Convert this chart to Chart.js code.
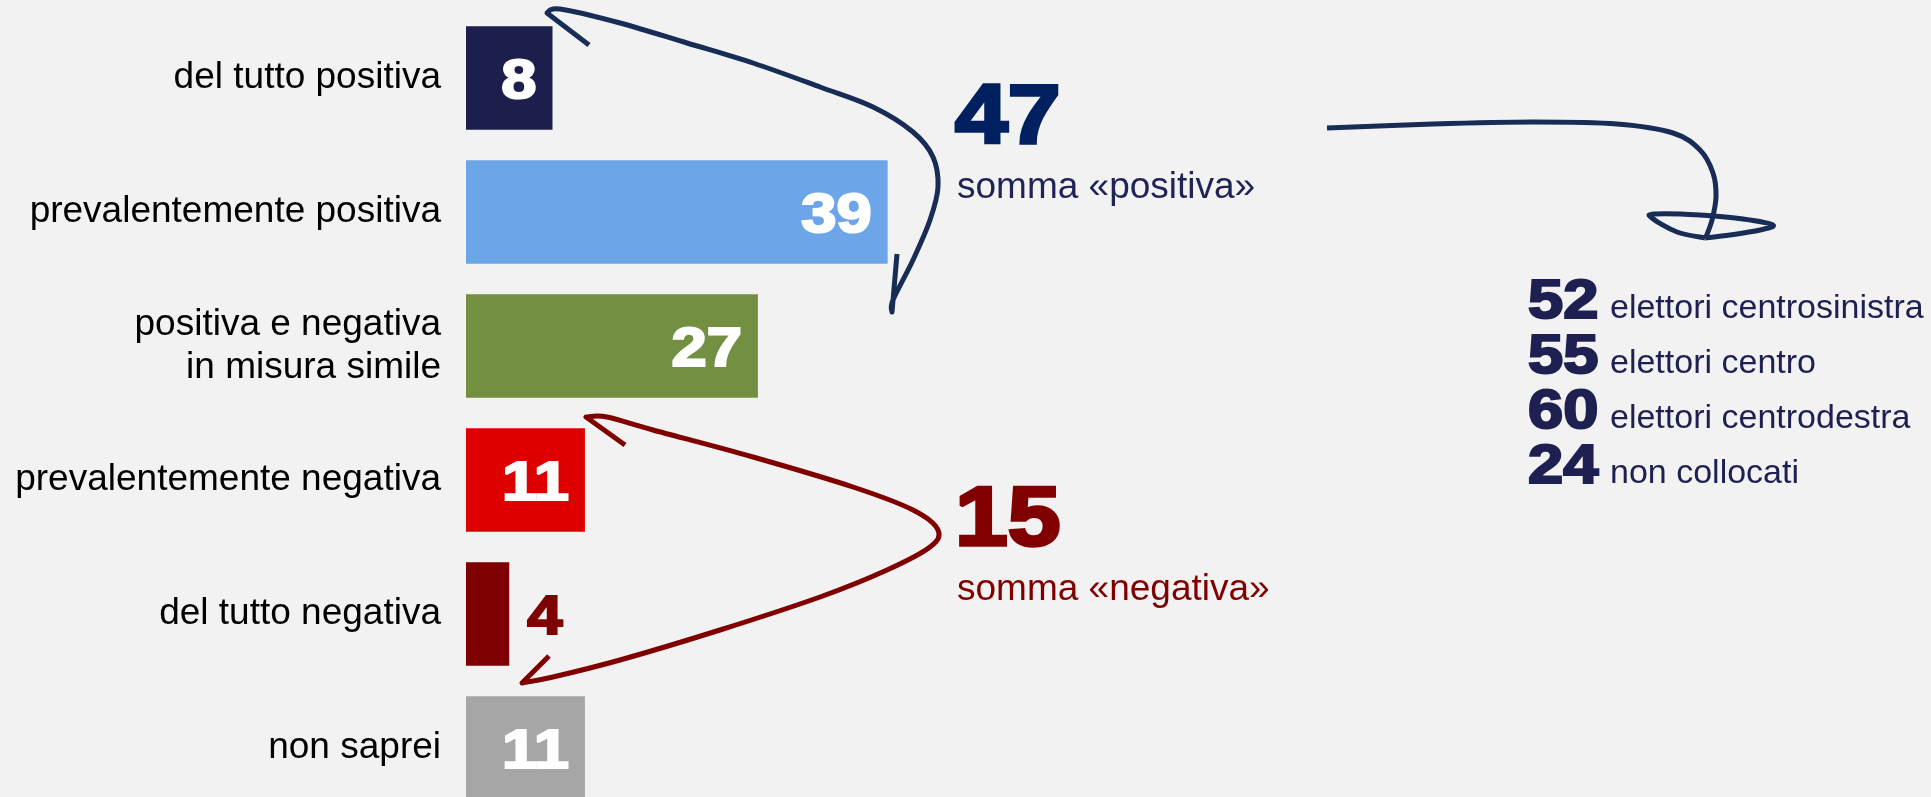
<!DOCTYPE html>
<html><head><meta charset="utf-8">
<script src="https://cdn.jsdelivr.net/npm/chart.js@4/dist/chart.umd.min.js"></script>
<style>
html,body{margin:0;padding:0;background:#F2F2F2;overflow:hidden;}
#wrap{width:1931px;height:797px;overflow:hidden;position:relative;background:#F2F2F2;}
#inner{width:1931px;height:815px;position:relative;}
canvas{display:block}
</style></head><body>
<div id="wrap"><div id="inner"><canvas id="c" width="1931" height="815"></canvas></div></div>
<script>
// ---- data ----
const categories = ["del tutto positiva", "prevalentemente positiva", ["positiva e negativa", "in misura simile"], "prevalentemente negativa", "del tutto negativa", "non saprei"];
const values = [8, 39, 27, 11, 4, 11];
const summaryValues = [47, 15];
const summaryLabels = ["somma «positiva»", "somma «negativa»"];
const groupValues = [52, 55, 60, 24];
const groupLabels = ["elettori centrosinistra", "elettori centro", "elettori centrodestra", "non collocati"];

// ---- styles ----
const barColors = ["#1C1F4C", "#6CA6E8", "#738F41", "#DE0000", "#7F0000", "#A6A6A6"];
const FONT = '"Liberation Sans", Arial, sans-serif';
const NAVY = "#1D2050";
const BLUE_SUM = "#002060";
const RED_SUM = "#800000";
const ARROW_BLUE = "#172D55";

function heavy(ctx, text, x, y, size, color, align) {
  ctx.save();
  ctx.font = `bold ${size}px ${FONT}`;
  ctx.fillStyle = color; ctx.strokeStyle = color;
  ctx.lineWidth = size * 0.04; ctx.lineJoin = 'miter'; ctx.miterLimit = 2;
  ctx.textBaseline = 'alphabetic'; ctx.textAlign = 'left';
  const sx = 1.13;
  const w = ctx.measureText(text).width * sx;
  const left = align === 'right' ? x - w : x;
  ctx.translate(left, y); ctx.scale(sx, 1);
  ctx.fillText(text, 0, 0); ctx.strokeText(text, 0, 0);
  ctx.restore();
}
function plain(ctx, text, x, y, size, color) {
  ctx.save();
  ctx.font = `${size}px ${FONT}`;
  ctx.fillStyle = color; ctx.textAlign = 'left'; ctx.textBaseline = 'alphabetic';
  ctx.fillText(text, x, y);
  ctx.restore();
}
function splineTo(ctx, pts) {
  for (let i = 0; i < pts.length - 1; i++) {
    const p0 = pts[i - 1] || pts[i], p1 = pts[i], p2 = pts[i + 1], p3 = pts[i + 2] || p2;
    ctx.bezierCurveTo(p1[0] + (p2[0] - p0[0]) / 6, p1[1] + (p2[1] - p0[1]) / 6,
                      p2[0] - (p3[0] - p1[0]) / 6, p2[1] - (p3[1] - p1[1]) / 6, p2[0], p2[1]);
  }
}

const valueLabels = {
  id: 'valueLabels',
  afterDatasetsDraw(chart) {
    const ctx = chart.ctx;
    const meta = chart.getDatasetMeta(0);
    meta.data.forEach((bar, i) => {
      const v = values[i];
      const y = bar.y + 20;
      if (v >= 6) heavy(ctx, String(v), bar.x - 16, y, 56, '#FFFFFF', 'right');
      else heavy(ctx, String(v), bar.x + 18, y, 56, barColors[i], 'left');
    });
  }
};

const annotations = {
  id: 'annotations',
  afterDraw(chart) {
    const ctx = chart.ctx;
    ctx.save();
    ctx.lineCap = 'butt'; ctx.lineJoin = 'round'; ctx.lineWidth = 5;
    // blue arrow (positive sum)
    ctx.strokeStyle = ARROW_BLUE;
    ctx.beginPath();
    ctx.moveTo(589, 45); ctx.lineTo(547, 13);
    splineTo(ctx, [[547, 13], [560, 9], [620, 23], [687, 43], [753, 63], [820, 87], [873, 107], [913, 132], [933, 157], [938, 187], [930, 220], [913, 260], [893, 300], [892, 312]]);
    ctx.lineTo(897, 254);
    ctx.stroke();
    // red arrow (negative sum)
    ctx.strokeStyle = RED_SUM;
    ctx.beginPath();
    ctx.moveTo(625, 445); ctx.lineTo(586, 417);
    splineTo(ctx, [[586, 417], [607, 417], [653, 430], [753, 457], [853, 487], [913, 510], [938, 530], [930, 547], [887, 570], [820, 597], [720, 630], [620, 660], [553, 677], [522, 683]]);
    ctx.lineTo(549, 656);
    ctx.stroke();
    // right arrow
    ctx.strokeStyle = ARROW_BLUE;
    ctx.beginPath();
    ctx.moveTo(1327, 128);
    splineTo(ctx, [[1327, 128], [1433, 124], [1533, 122], [1617, 124], [1673, 133], [1700, 150], [1713, 173], [1716, 197], [1712, 220], [1706, 237]]);
    ctx.stroke();
    ctx.beginPath();
    ctx.moveTo(1705, 238);
    splineTo(ctx, [[1705, 238], [1677, 232], [1652, 218], [1655, 214], [1700, 215], [1743, 219], [1773, 225], [1760, 230], [1730, 235], [1705, 238]]);
    ctx.stroke();
    ctx.restore();

    // sums
    heavy(ctx, String(summaryValues[0]), 955, 143, 84, BLUE_SUM, 'left');
    plain(ctx, summaryLabels[0], 957, 198, 37, "#1F2356");
    heavy(ctx, String(summaryValues[1]), 955, 545, 84, RED_SUM, 'left');
    plain(ctx, summaryLabels[1], 957, 600, 37, RED_SUM);
    // group list
    const base = [318, 373, 428, 483];
    groupValues.forEach((v, i) => {
      heavy(ctx, String(v), 1528, base[i], 56, NAVY, 'left');
      plain(ctx, groupLabels[i], 1610, base[i], 34, NAVY);
    });
  }
};

new Chart(document.getElementById('c'), {
  type: 'bar',
  data: {
    labels: categories,
    datasets: [{
      data: values,
      backgroundColor: barColors,
      borderWidth: 0,
      barPercentage: 0.772,
      categoryPercentage: 1
    }]
  },
  options: {
    indexAxis: 'y',
    responsive: false,
    devicePixelRatio: 1,
    animation: false,
    layout: { padding: { top: 11, right: 0, bottom: 0, left: 0 } },
    plugins: { legend: { display: false }, tooltip: { enabled: false } },
    scales: {
      x: { display: false, min: 0, max: 135.5 },
      y: {
        grid: { display: false, drawTicks: false },
        border: { display: false },
        ticks: { autoSkip: false, padding: 25, color: '#000000', font: { family: FONT, size: 37, lineHeight: 1.17 } },
        afterFit(scale) { scale.width = 466; scale.paddingTop = 0; scale.paddingBottom = 0; }
      }
    }
  },
  plugins: [valueLabels, annotations]
});
</script>
</body></html>
